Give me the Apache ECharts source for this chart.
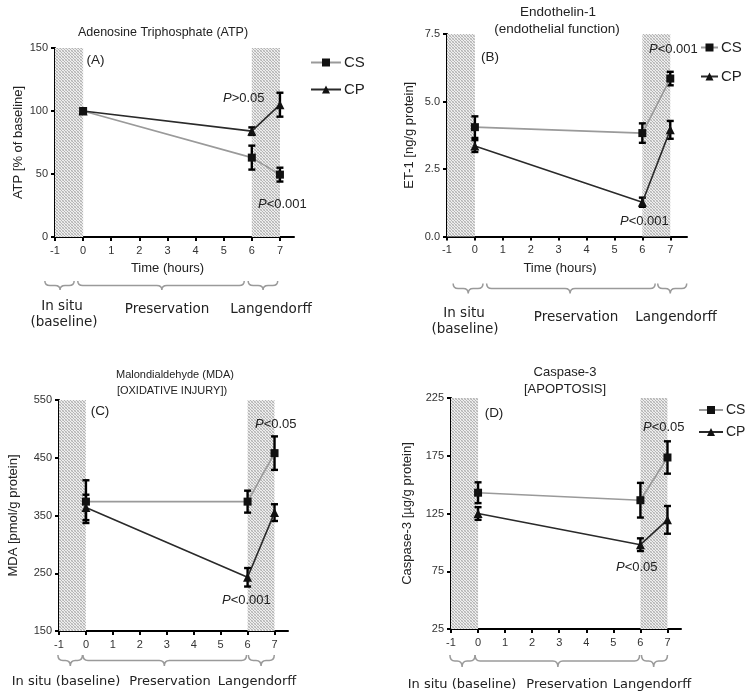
<!DOCTYPE html>
<html><head><meta charset="utf-8">
<script src="https://cdn.jsdelivr.net/npm/echarts@6/dist/echarts.min.js"></script>
<style>html,body{margin:0;padding:0;background:#fff}#c{width:749px;height:696px}</style>
</head><body><div id="c"></div>
<script>
// ---------- data ----------
const xTickValues = [-1, 0, 1, 2, 3, 4, 5, 6, 7];
const times = [0, 6, 7];
const shadeSpans = [[-1, 0], [6, 7]];

// (A) ATP
const atpTicks = [0, 50, 100, 150];
const atpCS = [100, 63, 49.5];
const atpCSerr = [1.5, 9.5, 5.5];
const atpCP = [100, 84, 105];
const atpCPerr = [1.5, 3, 9.5];

// (B) ET-1
const et1Ticks = [0, 2.5, 5.0, 7.5];
const et1CS = [4.05, 3.83, 5.85];
const et1CSerr = [0.4, 0.36, 0.25];
const et1CP = [3.35, 1.27, 3.95];
const et1CPerr = [0.22, 0.17, 0.33];

// (C) MDA
const mdaTicks = [150, 250, 350, 450, 550];
const mdaCS = [374, 374, 458];
const mdaCSerr = [37, 19, 29];
const mdaCP = [364, 243, 355];
const mdaCPerr = [22, 16, 14.5];

// (D) Caspase-3
const casTicks = [25, 75, 125, 175, 225];
const casCS = [143, 136.5, 173.5];
const casCSerr = [9, 15, 14];
const casCP = [125, 98, 119.5];
const casCPerr = [5.5, 5.5, 12];

// brace spans [start, end, tip] in hours
const bracesA = [[-1.36, -0.32, -0.82], [-0.19, 5.73, 2.8], [5.87, 6.92, 6.4]];
const bracesB = [[-0.78, 0.29, -0.24], [0.42, 6.46, 3.41], [6.55, 7.59, 7.0]];
const bracesC = [[-1.04, -0.13, -0.58], [-0.11, 5.96, 2.91], [6.03, 6.99, 6.5]];
const bracesD = [[-1.04, -0.11, -0.59], [-0.11, 5.97, 2.95], [6.04, 7.0, 6.49]];

// ---------- helpers ----------
const pat = document.createElement('canvas');
pat.width = 3; pat.height = 3;
const pc = pat.getContext('2d');
pc.fillStyle = '#eeeeee'; pc.fillRect(0, 0, 3, 3);
pc.fillStyle = '#b4b4b4'; pc.fillRect(0, 0, 1, 1); pc.fillRect(1, 1, 1, 1); pc.fillRect(2, 2, 1, 1);
pc.fillStyle = '#cfcfcf'; pc.fillRect(2, 0, 1, 1); pc.fillRect(0, 2, 1, 1);
const shadeColor = { image: pat, repeat: 'repeat' };

const SANS = '"Liberation Sans", Arial, sans-serif';
const VERD = '"DejaVu Sans", Verdana, sans-serif';

const panels = [
  { grid: { left: 55, top: 48, width: 239, height: 189 }, xmax: 7.5, ticks: atpTicks, dec: 0,
    cs: atpCS, cse: atpCSerr, cp: atpCP, cpe: atpCPerr, yname: 'ATP [% of baseline]', nameGap: 30,
    xname: 'Time (hours)', braces: bracesA, braceOff: 44, braceH: 9 },
  { grid: { left: 447, top: 34, width: 240, height: 202.5 }, xmax: 7.6, ticks: et1Ticks, dec: 1,
    cs: et1CS, cse: et1CSerr, cp: et1CP, cpe: et1CPerr, yname: 'ET-1 [ng/g protein]', nameGap: 31,
    xname: 'Time (hours)', braces: bracesB, braceOff: 47, braceH: 10 },
  { grid: { left: 59, top: 400, width: 229, height: 231 }, xmax: 7.5, ticks: mdaTicks, dec: 0,
    cs: mdaCS, cse: mdaCSerr, cp: mdaCP, cpe: mdaCPerr, yname: 'MDA [pmol/g protein]', nameGap: 39,
    xname: '', braces: bracesC, braceOff: 24, braceH: 11 },
  { grid: { left: 451, top: 398, width: 230, height: 231 }, xmax: 7.5, ticks: casTicks, dec: 0,
    cs: casCS, cse: casCSerr, cp: casCP, cpe: casCPerr, yname: 'Caspase-3 [\u00b5g/g protein]', nameGap: 37,
    xname: '', braces: bracesD, braceOff: 26, braceH: 12 }
];

const grids = [], xAxes = [], yAxes = [], series = [];

function errRender(params, api) {
  const x = api.value(0), lo = api.value(1), hi = api.value(2);
  const a = api.coord([x, lo]), b = api.coord([x, hi]);
  const w = 3.5, st = { stroke: '#000', lineWidth: 2.4 };
  return { type: 'group', children: [
    { type: 'line', shape: { x1: a[0], y1: a[1], x2: b[0], y2: b[1] }, style: st },
    { type: 'line', shape: { x1: a[0] - w, y1: a[1], x2: a[0] + w, y2: a[1] }, style: st },
    { type: 'line', shape: { x1: b[0] - w, y1: b[1], x2: b[0] + w, y2: b[1] }, style: st }
  ] };
}

panels.forEach((p, i) => {
  const ymin = p.ticks[0], ymax = p.ticks[p.ticks.length - 1];
  grids.push(Object.assign({ containLabel: false }, p.grid));
  xAxes.push({
    type: 'value', gridIndex: i, min: -1, max: p.xmax, interval: 1,
    name: p.xname, nameLocation: 'middle', nameGap: 25,
    nameTextStyle: { fontFamily: SANS, fontSize: 13, color: '#222', padding: [0, 14, 0, 0] },
    axisLine: { show: true, onZero: false, lineStyle: { color: '#000', width: 2 } },
    axisTick: { show: true, length: 4, customValues: xTickValues, lineStyle: { color: '#000', width: 2 } },
    axisLabel: { customValues: xTickValues, fontFamily: SANS, fontSize: 11, color: '#333', margin: 8 },
    splitLine: { show: false }
  });
  yAxes.push({
    type: 'value', gridIndex: i, min: ymin, max: ymax, interval: p.ticks[1] - p.ticks[0],
    name: p.yname, nameLocation: 'middle', nameGap: p.nameGap, nameRotate: 90,
    nameTextStyle: { fontFamily: SANS, fontSize: 13, color: '#222' },
    axisLine: { show: true, onZero: false, lineStyle: { color: '#000', width: 2 } },
    axisTick: { show: true, length: 4, lineStyle: { color: '#000', width: 2 } },
    axisLabel: { fontFamily: SANS, fontSize: 11, color: '#333', margin: 7,
      formatter: v => v.toFixed(p.dec) },
    splitLine: { show: false }
  });
  series.push({
    name: 'CS', type: 'line', xAxisIndex: i, yAxisIndex: i, z: 5,
    data: times.map((t, k) => [t, p.cs[k]]),
    symbol: 'rect', symbolSize: 8, itemStyle: { color: '#111' },
    lineStyle: { color: '#9a9a9a', width: 1.6 },
    markArea: { silent: true, itemStyle: { color: shadeColor },
      data: shadeSpans.map(s => [{ xAxis: s[0] }, { xAxis: s[1] }]) }
  });
  series.push({
    name: 'CP', type: 'line', xAxisIndex: i, yAxisIndex: i, z: 5,
    data: times.map((t, k) => [t, p.cp[k]]),
    symbol: 'triangle', symbolSize: 9, itemStyle: { color: '#111' },
    lineStyle: { color: '#2a2a2a', width: 1.6 }
  });
  series.push({
    type: 'custom', xAxisIndex: i, yAxisIndex: i, z: 4, silent: true,
    renderItem: errRender,
    data: times.map((t, k) => [t, p.cs[k] - p.cse[k], p.cs[k] + p.cse[k]])
      .concat(times.map((t, k) => [t, p.cp[k] - p.cpe[k], p.cp[k] + p.cpe[k]]))
  });
  series.push({
    type: 'custom', xAxisIndex: i, yAxisIndex: i, clip: false, silent: true,
    renderItem: function (params, api) {
      const x0 = api.coord([api.value(0), ymin])[0];
      const x1 = api.coord([api.value(1), ymin])[0];
      const xm = api.coord([api.value(2), ymin])[0];
      const y0 = api.coord([0, ymin])[1] + p.braceOff;
      const h = p.braceH, ym = y0 + h * 0.5;
      const q = Math.min(5, (xm - x0) / 2, (x1 - xm) / 2);
      const d = `M${x0} ${y0} Q${x0} ${ym} ${x0 + q} ${ym} L${xm - q} ${ym} Q${xm} ${ym} ${xm} ${y0 + h} ` +
                `Q${xm} ${ym} ${xm + q} ${ym} L${x1 - q} ${ym} Q${x1} ${ym} ${x1} ${y0}`;
      return { type: 'path', shape: { pathData: d }, style: { stroke: '#9a9a9a', lineWidth: 1.5, fill: null } };
    },
    data: p.braces
  });
});

function txt(x, y, text, size, opts) {
  opts = opts || {};
  return { type: 'text', x: x, y: y, z: 100, silent: true, style: Object.assign({
    text: text, fontFamily: SANS, fontSize: size, fill: '#222',
    align: 'center', verticalAlign: 'middle' }, opts) };
}
function pval(x, y, text) {
  return { type: 'text', x: x, y: y, z: 100, silent: true, style: {
    text: '{i|P}' + text, fontFamily: SANS, fontSize: 13, fill: '#222', align: 'left', verticalAlign: 'middle',
    rich: { i: { fontStyle: 'italic', fontFamily: SANS, fontSize: 13, fill: '#222' } } } };
}

const graphics = [
  // titles
  txt(163, 33, 'Adenosine Triphosphate (ATP)', 12.5),
  txt(558, 12, 'Endothelin-1', 13.5),
  txt(557, 29, '(endothelial function)', 13.5),
  txt(175, 375, 'Malondialdehyde (MDA)', 11),
  txt(172, 391, '[OXIDATIVE INJURY])', 11),
  txt(565, 372, 'Caspase-3', 13),
  txt(565, 389, '[APOPTOSIS]', 13),
  // panel letters
  txt(95.5, 60, '(A)', 13.5),
  txt(490, 57, '(B)', 13.5),
  txt(100, 411.5, '(C)', 13.5),
  txt(494, 413, '(D)', 13.5),
  // p values
  pval(223, 98, '>0.05'),
  pval(258, 204, '<0.001'),
  pval(649, 49, '<0.001'),
  pval(620, 221, '<0.001'),
  pval(255, 424, '<0.05'),
  pval(222, 600, '<0.001'),
  pval(643, 427, '<0.05'),
  pval(616, 567, '<0.05'),
  // brace labels
  txt(62, 306, 'In situ', 13.5, { fontFamily: VERD }),
  txt(64, 322, '(baseline)', 13.5, { fontFamily: VERD }),
  txt(167, 309, 'Preservation', 13.5, { fontFamily: VERD }),
  txt(271, 309, 'Langendorff', 13.5, { fontFamily: VERD }),
  txt(464, 313, 'In situ', 13.5, { fontFamily: VERD }),
  txt(465, 329, '(baseline)', 13.5, { fontFamily: VERD }),
  txt(576, 317, 'Preservation', 13.5, { fontFamily: VERD }),
  txt(676, 317, 'Langendorff', 13.5, { fontFamily: VERD }),
  txt(66, 682, 'In situ (baseline)', 13, { fontFamily: VERD }),
  txt(170, 682, 'Preservation', 13, { fontFamily: VERD }),
  txt(257, 682, 'Langendorff', 13, { fontFamily: VERD }),
  txt(462, 685, 'In situ (baseline)', 13, { fontFamily: VERD }),
  txt(567, 685, 'Preservation', 13, { fontFamily: VERD }),
  txt(652, 685, 'Langendorff', 13, { fontFamily: VERD })
];

function legend(left, top, w, gap, size) {
  return { data: ['CS', 'CP'], orient: 'vertical', left: left, top: top, itemWidth: w, itemHeight: 10,
    itemGap: gap, selectedMode: false, padding: 0,
    textStyle: { fontFamily: SANS, fontSize: size, color: '#222', padding: [0, 0, 0, -2] } };
}

const chart = echarts.init(document.getElementById('c'), null, { renderer: 'canvas' });
chart.setOption({
  animation: false,
  backgroundColor: '#fff',
  grid: grids, xAxis: xAxes, yAxis: yAxes, series: series,
  legend: [legend(310, 55, 30, 12, 15), legend(700, 40, 17, 14, 15), legend(698, 403, 24, 8, 14)],
  graphic: graphics
});
</script></body></html>
